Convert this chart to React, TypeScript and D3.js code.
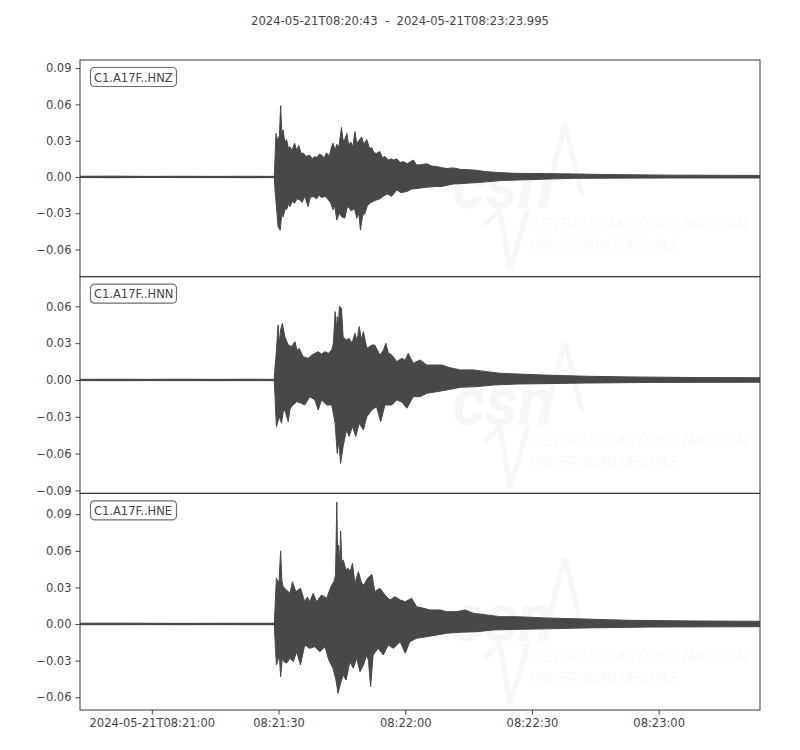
import * as d3 from 'd3';
import React, { useRef, useEffect } from 'react';

// time window of the record
const startTime = new Date(Date.UTC(2024, 4, 21, 8, 20, 43));
const endTime = new Date(Date.UTC(2024, 4, 21, 8, 23, 23, 995));
const titleText = '2024-05-21T08:20:43  -  2024-05-21T08:23:23.995';

const channelNames = ['C1.A17F..HNZ', 'C1.A17F..HNN', 'C1.A17F..HNE'];

// y limits of each panel
const yLimits: [number, number][] = [
    [-0.0824, 0.0967],
    [-0.0924, 0.0842],
    [-0.0705, 0.1071],
];

// Envelope peaks: seconds after start, value
const hnzUpperT = [0, 8, 16, 24, 32, 40, 46.0, 46.2, 46.4, 46.8, 47.2, 47.5, 47.8, 48.1, 48.5, 48.9, 49.3, 49.7, 50.2, 50.8, 51.3, 51.8, 52.4, 52.8, 53.5, 54.4, 55.0, 55.6, 56.1, 56.7, 57.2, 57.8, 58.4, 59.0, 59.5, 59.9, 60.4, 60.8, 61.3, 61.9, 62.3, 62.7, 63.2, 63.6, 64.1, 64.6, 65.1, 65.5, 66.0, 66.7, 67.2, 67.9, 68.5, 69.1, 69.6, 70.2, 71.0, 71.6, 72.2, 73.0, 73.8, 74.2, 75.0, 75.8, 76.5, 77.5, 78.9, 79.7, 80.5, 82.1, 83.3, 84.5, 86.8, 88.4, 90.0, 93.1, 96.3, 99.5, 103.4, 110, 116.8, 125, 140.5, 150, 161];
const hnzUpperV = [0.0006, 0.0007, 0.0005, 0.0006, 0.0005, 0.0006, 0.0005, 0.018, 0.036, 0.030, 0.034, 0.059, 0.035, 0.039, 0.028, 0.031, 0.024, 0.025, 0.022, 0.028, 0.022, 0.026, 0.019, 0.020, 0.017, 0.018, 0.015, 0.017, 0.016, 0.019, 0.018, 0.016, 0.020, 0.017, 0.024, 0.028, 0.022, 0.027, 0.025, 0.041, 0.030, 0.031, 0.036, 0.026, 0.029, 0.025, 0.0375, 0.028, 0.030, 0.033, 0.027, 0.031, 0.024, 0.024, 0.020, 0.0195, 0.021, 0.016, 0.017, 0.014, 0.015, 0.014, 0.015, 0.012, 0.0127, 0.011, 0.014, 0.010, 0.010, 0.011, 0.009, 0.0085, 0.007, 0.0075, 0.0063, 0.0058, 0.0044, 0.0036, 0.003, 0.0028, 0.0025, 0.002, 0.0015, 0.0014, 0.0013];
const hnzLowerT = [0, 8, 16, 24, 32, 40, 46.0, 46.2, 46.5, 46.9, 47.4, 47.8, 48.1, 48.6, 48.9, 49.4, 49.7, 50.3, 50.8, 51.4, 52.0, 52.6, 53.2, 54.0, 54.5, 55.2, 56.0, 56.6, 57.2, 58.0, 58.6, 59.3, 59.9, 60.3, 60.8, 61.4, 62.0, 62.7, 63.2, 63.5, 64.2, 65.0, 65.5, 66.0, 66.4, 66.9, 67.5, 68.0, 68.6, 69.5, 70.2, 71.0, 71.8, 72.8, 73.8, 75.0, 76.0, 77.4, 78.5, 79.7, 82.1, 84.5, 85.3, 88.4, 91.6, 96.3, 99.5, 103.4, 116.8, 140.5, 161];
const hnzLowerV = [-0.0005, -0.0006, -0.0004, -0.0005, -0.0005, -0.0006, -0.0005, -0.012, -0.024, -0.041, -0.044, -0.030, -0.033, -0.026, -0.027, -0.022, -0.0245, -0.020, -0.0217, -0.018, -0.019, -0.021, -0.016, -0.0245, -0.017, -0.016, -0.018, -0.015, -0.017, -0.016, -0.018, -0.021, -0.027, -0.024, -0.0355, -0.030, -0.033, -0.034, -0.026, -0.0245, -0.028, -0.026, -0.034, -0.030, -0.0438, -0.032, -0.030, -0.024, -0.0217, -0.020, -0.019, -0.018, -0.016, -0.014, -0.016, -0.0107, -0.013, -0.012, -0.010, -0.0095, -0.0085, -0.0078, -0.008, -0.0058, -0.0052, -0.004, -0.003, -0.0025, -0.0011, -0.0008, -0.0008];

const hnnUpperT = [0, 8, 16, 24, 32, 40, 46.0, 46.2, 46.4, 46.9, 47.2, 47.5, 47.9, 48.5, 49.3, 50.1, 50.9, 51.4, 51.9, 52.8, 54.0, 54.8, 55.6, 56.4, 57.2, 58.0, 58.8, 59.6, 60.0, 60.4, 60.7, 60.9, 61.2, 61.4, 61.9, 62.3, 63.1, 63.7, 64.4, 65.1, 65.6, 66.1, 66.6, 67.1, 67.9, 68.5, 69.1, 69.8, 71.0, 71.8, 72.4, 73.0, 73.8, 75.0, 76.2, 77.0, 77.7, 78.9, 80.5, 82.1, 83.7, 85.7, 87.2, 90.0, 93.1, 96.3, 99.5, 103.4, 110, 120, 130, 145, 161];
const hnnUpperV = [0.0005, 0.0006, 0.0005, 0.0006, 0.0005, 0.0006, 0.0005, 0.012, 0.019, 0.0448, 0.030, 0.0408, 0.0462, 0.0353, 0.0285, 0.0272, 0.0312, 0.024, 0.0258, 0.019, 0.0177, 0.020, 0.0217, 0.0231, 0.021, 0.0231, 0.0217, 0.0245, 0.030, 0.0557, 0.040, 0.0516, 0.045, 0.0603, 0.0584, 0.035, 0.0326, 0.034, 0.030, 0.038, 0.032, 0.0435, 0.033, 0.0394, 0.0258, 0.027, 0.0285, 0.0285, 0.0204, 0.024, 0.0299, 0.022, 0.0204, 0.015, 0.0177, 0.016, 0.0217, 0.0136, 0.0163, 0.0122, 0.0122, 0.0122, 0.0103, 0.0082, 0.0082, 0.0068, 0.0054, 0.0049, 0.004, 0.003, 0.0025, 0.002, 0.0018];
const hnnLowerT = [0, 8, 16, 24, 32, 40, 46.0, 46.2, 46.5, 47.2, 47.7, 48.1, 48.5, 49.3, 49.7, 50.1, 51.3, 52.4, 53.2, 54.4, 55.6, 56.4, 57.2, 58.4, 59.6, 60.4, 60.9, 61.3, 61.7, 62.3, 63.1, 63.7, 64.5, 65.3, 66.1, 67.1, 67.9, 69.1, 70.2, 71.2, 72.2, 73.8, 75.0, 76.2, 77.4, 78.9, 80.5, 82.1, 84.5, 86.8, 90.0, 94.0, 97.9, 103.4, 110, 120, 135, 161];
const hnnLowerV = [-0.0005, -0.0006, -0.0005, -0.0005, -0.0006, -0.0005, -0.0005, -0.015, -0.038, -0.0299, -0.0353, -0.026, -0.0245, -0.034, -0.024, -0.0217, -0.0177, -0.019, -0.0204, -0.0136, -0.0163, -0.0245, -0.0163, -0.0204, -0.0204, -0.0353, -0.0598, -0.050, -0.068, -0.0543, -0.0408, -0.046, -0.038, -0.046, -0.0353, -0.0408, -0.0299, -0.0245, -0.0217, -0.034, -0.0204, -0.0204, -0.0163, -0.018, -0.023, -0.0136, -0.0136, -0.0109, -0.0095, -0.0082, -0.006, -0.0054, -0.0041, -0.0033, -0.003, -0.0025, -0.002, -0.0018];

const hneUpperT = [0, 8, 16, 24, 32, 40, 46.0, 46.2, 46.5, 47.1, 47.5, 47.8, 48.1, 48.9, 49.7, 50.3, 51.1, 52.2, 53.2, 53.8, 54.4, 55.2, 56.0, 57.2, 58.4, 59.4, 60.1, 60.5, 60.8, 61.0, 61.2, 61.5, 61.7, 62.0, 62.3, 63.0, 63.5, 64.0, 64.5, 65.1, 65.9, 66.7, 67.2, 68.1, 69.1, 69.8, 71.0, 72.2, 73.4, 74.6, 75.8, 77.0, 78.5, 79.7, 81.3, 82.9, 85.3, 86.8, 89.2, 91.2, 93.1, 96.3, 99.5, 103.4, 110, 120, 130, 145, 161];
const hneUpperV = [0.0006, 0.0007, 0.0006, 0.0005, 0.0006, 0.0006, 0.0006, 0.015, 0.0375, 0.0333, 0.0599, 0.035, 0.0306, 0.0279, 0.0251, 0.0347, 0.0265, 0.0293, 0.0183, 0.022, 0.0183, 0.0251, 0.0183, 0.0238, 0.0211, 0.0306, 0.0347, 0.040, 0.0998, 0.055, 0.0648, 0.050, 0.0763, 0.050, 0.0525, 0.0443, 0.0457, 0.0429, 0.0498, 0.0333, 0.0429, 0.0333, 0.032, 0.0375, 0.0407, 0.0265, 0.0293, 0.0238, 0.0197, 0.0224, 0.0197, 0.0183, 0.0211, 0.0142, 0.0129, 0.0115, 0.0115, 0.0101, 0.0101, 0.0115, 0.0088, 0.0074, 0.006, 0.006, 0.005, 0.004, 0.003, 0.0025, 0.0022];
const hneLowerT = [0, 8, 16, 24, 32, 40, 46.0, 46.2, 46.5, 47.2, 47.5, 47.9, 48.3, 48.9, 49.7, 50.5, 51.3, 52.2, 53.2, 54.4, 55.6, 56.8, 58.0, 58.9, 59.9, 60.6, 61.1, 61.8, 62.3, 63.0, 63.9, 64.7, 65.5, 66.3, 67.1, 67.9, 68.3, 68.8, 69.4, 70.6, 71.8, 73.0, 74.2, 75.8, 77.0, 78.1, 79.7, 82.1, 84.5, 86.8, 90.0, 94.0, 97.9, 103.4, 110, 120, 135, 161];
const hneLowerV = [-0.0006, -0.0006, -0.0005, -0.0006, -0.0005, -0.0006, -0.0006, -0.015, -0.0336, -0.0254, -0.0432, -0.028, -0.0309, -0.0322, -0.0281, -0.0309, -0.0227, -0.0336, -0.0172, -0.0199, -0.0186, -0.0227, -0.0186, -0.0295, -0.0363, -0.0459, -0.0568, -0.0473, -0.0418, -0.0459, -0.0309, -0.0363, -0.0281, -0.0391, -0.0336, -0.0254, -0.030, -0.0514, -0.0254, -0.0199, -0.0254, -0.0172, -0.0199, -0.0145, -0.024, -0.0145, -0.0117, -0.0104, -0.009, -0.0076, -0.0068, -0.0063, -0.0049, -0.0044, -0.004, -0.0032, -0.0025, -0.0022];

const upperT = [hnzUpperT, hnnUpperT, hneUpperT];
const upperV = [hnzUpperV, hnnUpperV, hneUpperV];
const lowerT = [hnzLowerT, hnnLowerT, hneLowerT];
const lowerV = [hnzLowerV, hnnLowerV, hneLowerV];

const ChartPanels: React.FC = () => {
    const svgRef = useRef<SVGSVGElement | null>(null);

    useEffect(() => {
        const width = 800;
        const height = 750;
        const l = 80;
        const r = 760;
        const t = 60;
        const b = 710;
        const panelH = (b - t) / 3;
        const textColor = '#444444';
        const traceColor = '#484848';
        const wmColor = '#f7f7f7';
        const font = 'DejaVu Sans, sans-serif';

        const svg = d3.select(svgRef.current).attr('width', width).attr('height', height);
        svg.selectAll('*').remove();

        svg.append('rect').attr('width', width).attr('height', height).attr('fill', '#ffffff');

        const xScale = d3.scaleUtc().domain([startTime, endTime]).range([l, r]);
        const toDate = (s: number) => new Date(startTime.getTime() + s * 1000);

        // title
        svg.append('text')
            .attr('x', 400)
            .attr('y', 25)
            .attr('text-anchor', 'middle')
            .attr('font-family', font)
            .attr('font-size', 11.6)
            .attr('fill', textColor)
            .style('white-space', 'pre')
            .text(titleText);

        const defs = svg.append('defs');

        channelNames.forEach((name, i) => {
            const top = t + i * panelH;
            const yScale = d3.scaleLinear().domain(yLimits[i]).range([top + panelH, top]);

            defs.append('clipPath').attr('id', `clip${i}`)
                .append('rect').attr('x', l).attr('y', top).attr('width', r - l).attr('height', panelH);

            const g = svg.append('g').attr('clip-path', `url(#clip${i})`);

            // faint CSN watermark
            const wm = g.append('g').attr('fill', wmColor);
            wm.append('text')
                .attr('x', 452).attr('y', top + 148)
                .attr('font-family', 'Roboto, sans-serif').attr('font-weight', 'bold').attr('font-style', 'italic')
                .attr('font-size', 66).text('csn');
            wm.append('text')
                .attr('x', 532).attr('y', top + 169)
                .attr('font-family', 'Roboto, sans-serif').attr('font-weight', 300).attr('font-style', 'italic')
                .attr('font-size', 15).attr('letter-spacing', -0.3).text('CENTRO SISMOLÓGICO NACIONAL');
            wm.append('text')
                .attr('x', 529).attr('y', top + 190)
                .attr('font-family', 'Roboto, sans-serif').attr('font-weight', 300).attr('font-style', 'italic')
                .attr('font-size', 15).attr('letter-spacing', -0.3).text('UNIVERSIDAD DE CHILE');
            g.append('path')
                .attr('d', `M548,${top + 128} L565,${top + 65} L582,${top + 135} M484,${top + 165} L500,${top + 150} L510,${top + 210} L528,${top + 150}`)
                .attr('fill', 'none').attr('stroke', wmColor).attr('stroke-width', 5);

            // trace envelope: upper and lower halves
            const upper = upperT[i].map((s, k) => ({ s, v: upperV[i][k] }));
            const lower = lowerT[i].map((s, k) => ({ s, v: lowerV[i][k] }));
            const area = d3.area<{ s: number; v: number }>()
                .x((d) => xScale(toDate(d.s)))
                .y0(() => yScale(0))
                .y1((d) => yScale(d.v));

            [upper, lower].forEach((pts) => {
                g.append('path')
                    .datum(pts)
                    .attr('d', area)
                    .attr('fill', traceColor)
                    .attr('stroke', traceColor)
                    .attr('stroke-width', 1)
                    .attr('stroke-linejoin', 'miter');
            });

            // label box
            const lab = svg.append('g').attr('transform', `translate(${l + 10},${top + 7})`);
            lab.append('rect')
                .attr('x', 0.5).attr('y', 0.5).attr('width', 86).attr('height', 19)
                .attr('rx', 4).attr('fill', '#ffffff').attr('stroke', '#6e6e6e').attr('stroke-width', 1.2);
            lab.append('text')
                .attr('x', 4).attr('y', 14.5)
                .attr('font-family', font).attr('font-size', 11.5).attr('fill', textColor)
                .text(name);

            // y axis
            const step = 0.03;
            const tickVals = d3.range(Math.ceil(yLimits[i][0] / step), Math.floor(yLimits[i][1] / step) + 1)
                .map((k) => k * step);
            const yAxis = svg.append('g')
                .attr('transform', `translate(${l},0)`)
                .call(d3.axisLeft(yScale).tickValues(tickVals).tickFormat(d3.format('.2f')).tickSize(4.5).tickPadding(4));
            yAxis.select('.domain').remove();
            yAxis.selectAll('line').attr('stroke', textColor);
            yAxis.selectAll('text').attr('fill', textColor).attr('font-family', font).attr('font-size', 11.5);

            // frame
            svg.append('rect')
                .attr('x', l).attr('y', top).attr('width', r - l).attr('height', panelH)
                .attr('fill', 'none').attr('stroke', '#3a3a3a').attr('stroke-width', 1);
        });

        // x axis under the last panel
        const fmtFirst = d3.utcFormat('%Y-%m-%dT%H:%M:%S');
        const fmtRest = d3.utcFormat('%H:%M:%S');
        const xTicks = xScale.ticks(d3.utcSecond.every(30) as d3.TimeInterval);
        const xAxis = svg.append('g')
            .attr('transform', `translate(0,${b})`)
            .call(d3.axisBottom(xScale).tickValues(xTicks)
                .tickFormat((d, k) => (k === 0 ? fmtFirst(d as Date) : fmtRest(d as Date)))
                .tickSize(4.5).tickPadding(4));
        xAxis.select('.domain').remove();
        xAxis.selectAll('line').attr('stroke', textColor);
        xAxis.selectAll('text').attr('fill', textColor).attr('font-family', font).attr('font-size', 11.5);
    }, []);

    return <svg ref={svgRef} style={{ position: 'absolute', left: 0, top: 0 }}></svg>;
};

export default function App() {
    return <ChartPanels />;
}
